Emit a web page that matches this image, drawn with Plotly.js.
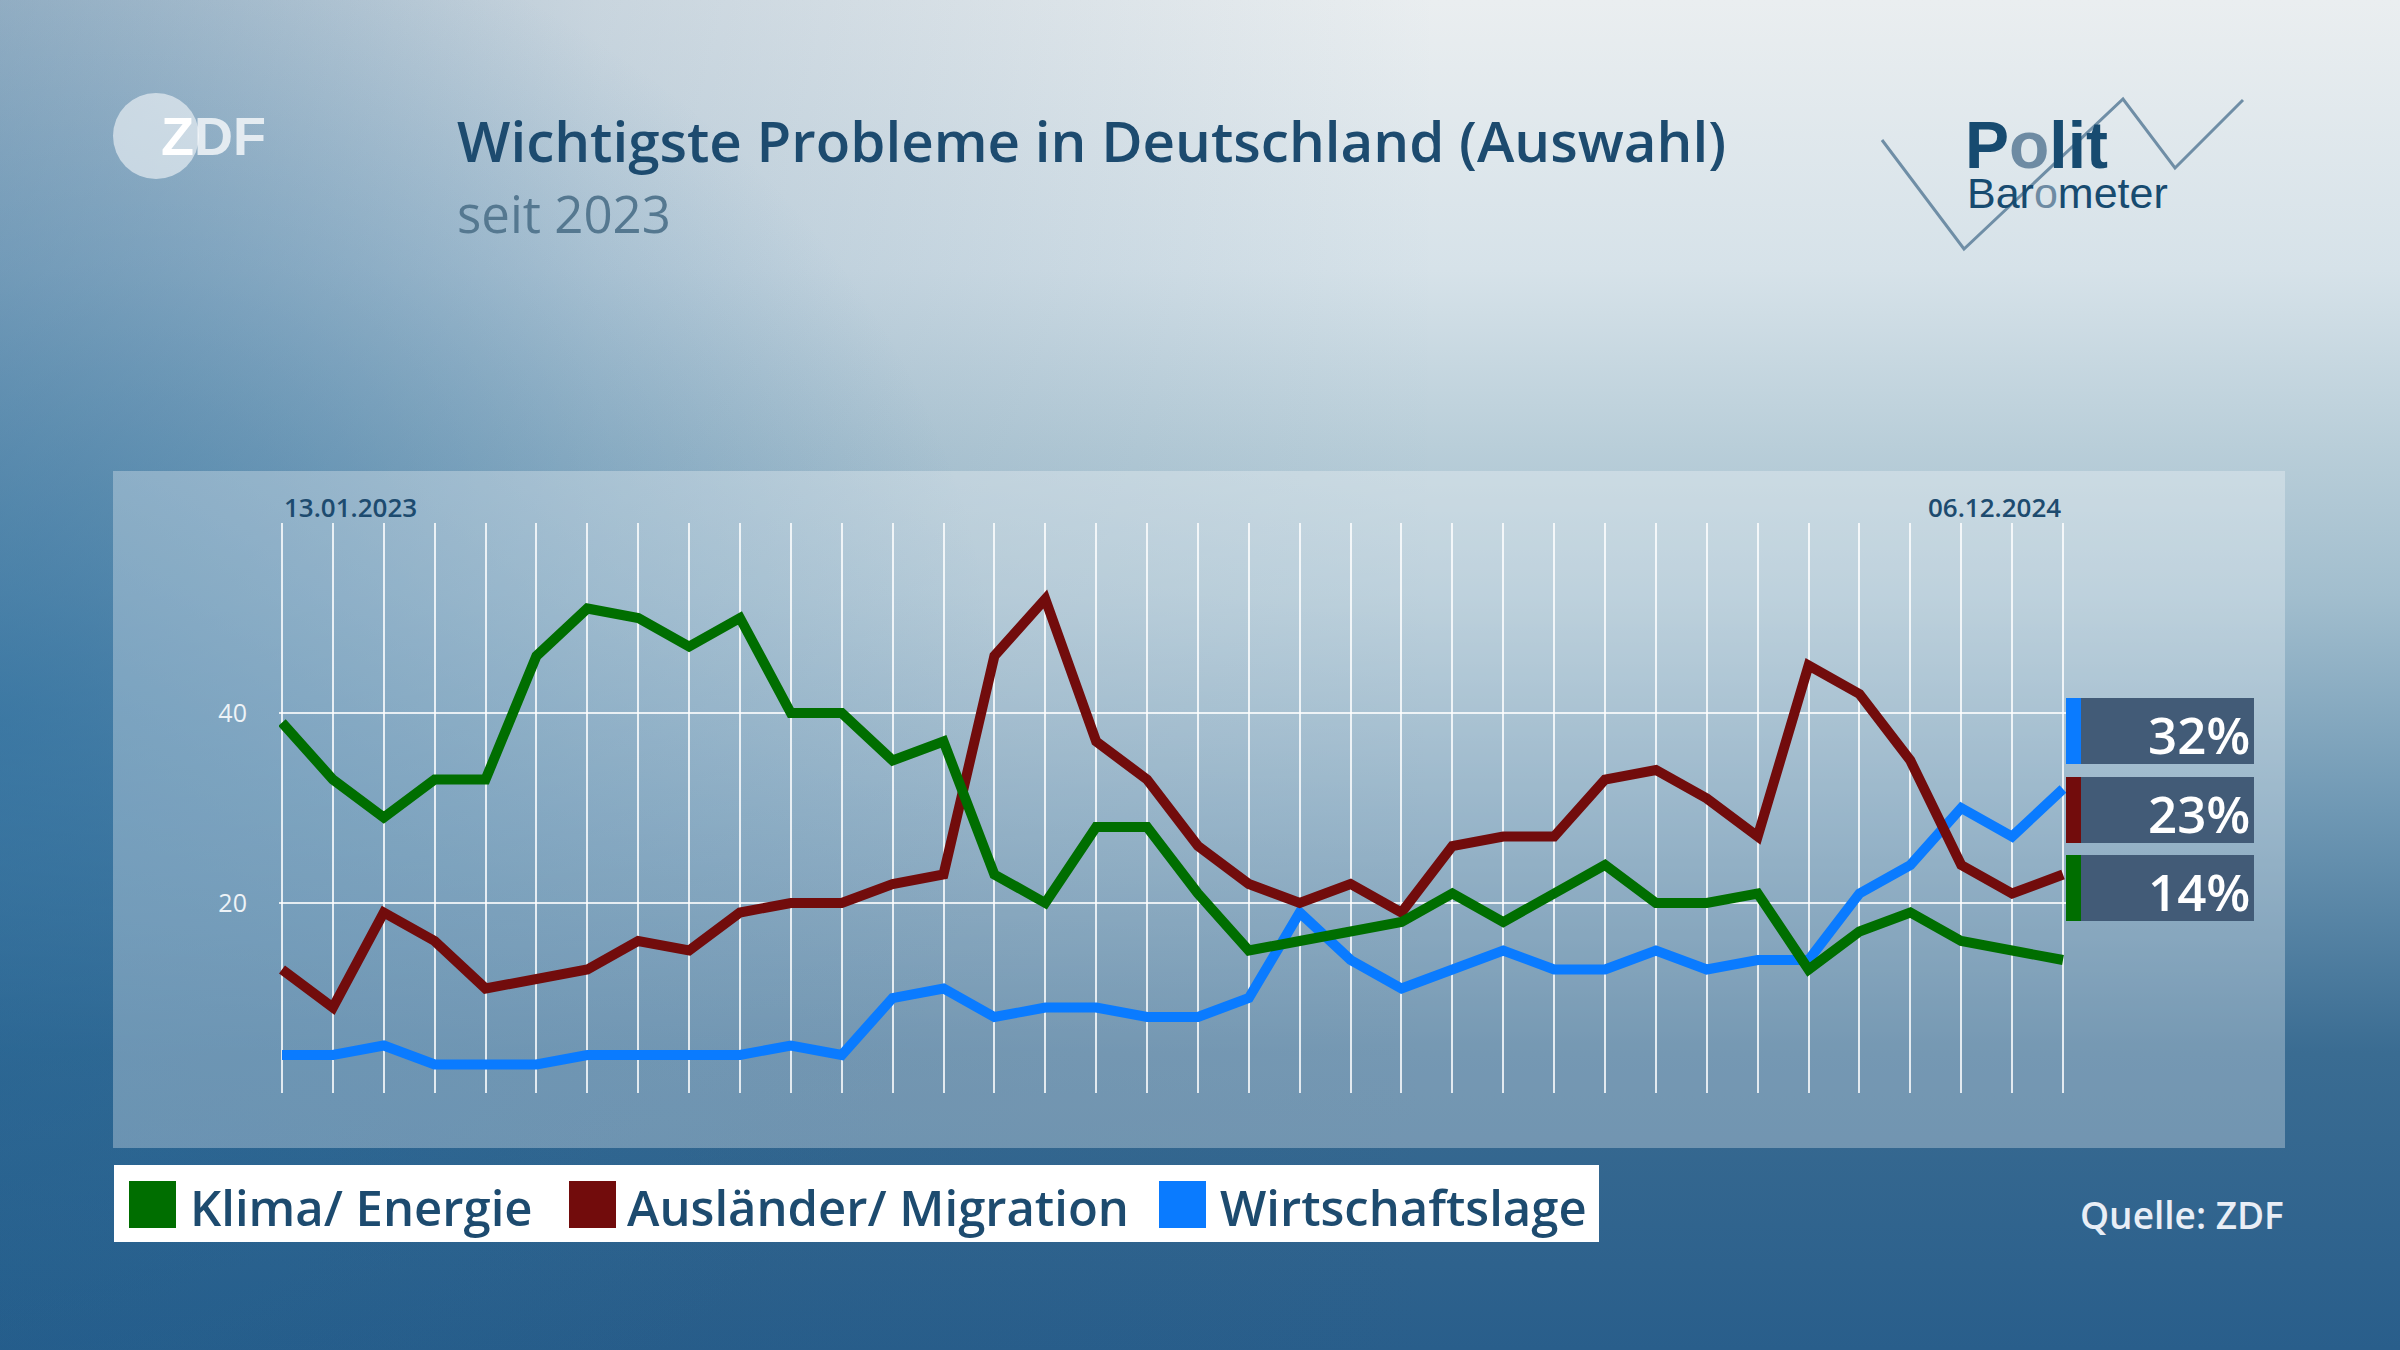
<!DOCTYPE html>
<html>
<head>
<meta charset="utf-8">
<script src="https://cdn.plot.ly/plotly-3.0.1.min.js"></script>
<style>
  html, body { margin: 0; padding: 0; width: 2400px; height: 1350px; overflow: hidden; }
  #bg {
    position: absolute; left: 0; top: 0; width: 2400px; height: 1350px;
    background:
      radial-gradient(ellipse 1000px 850px at 0px 720px, rgba(40,110,160,0.62) 0%, rgba(40,110,160,0.30) 50%, rgba(40,110,160,0) 100%),
      linear-gradient(to right, rgba(28,84,130,0.38) 0%, rgba(28,84,130,0.16) 25%, rgba(28,84,130,0.0) 60%),
      linear-gradient(to bottom, #eaeef0 0%, #d6e2e9 20%, #b9ced9 33%, #a2bece 44%, #6f98b4 60%, #3a6c92 78%, #295e8b 100%);
  }
  #chart { position: absolute; left: 0; top: 0; width: 2400px; height: 1350px; }
</style>
</head>
<body>
<div id="bg"></div>
<div id="chart"></div>
<script>
// ---------- data ----------
const titleText = 'Wichtigste Probleme in Deutschland (Auswahl)';
const subtitleText = 'seit 2023';
const firstDate = '13.01.2023';
const lastDate = '06.12.2024';
const sourceText = 'Quelle: ZDF';

const seriesNames = ['Klima/ Energie', 'Ausländer/ Migration', 'Wirtschaftslage'];
const seriesColors = ['#006e00', '#720c0c', '#0a7bff'];

const klima = [39,33,29,33,33,46,51,50,47,50,40,40,35,37,23,20,28,28,21,15,16,17,18,21,18,21,24,20,20,21,13,17,19,16,15,14];
const auslaender = [13,9,19,16,11,12,13,16,15,19,20,20,22,23,46,52,37,33,26,22,20,22,19,26,27,27,33,34,31,27,45,42,35,24,21,23];
const wirtschaft = [4,4,5,3,3,3,4,4,4,4,5,4,10,11,8,9,9,8,8,10,19,14,11,13,15,13,13,15,13,14,14,21,24,30,27,32];

const yTickVals = [20, 40];
const yTickText = ['20', '40'];

// ---------- helpers ----------
const W = 2400, H = 1350;
const fx = p => p / W;
const fy = p => 1 - p / H;
const FONT = 'Open Sans, Noto Sans, sans-serif';
const NAVY = '#1d4b6f';

const xs = klima.map((_, i) => i);
const lastIdx = xs.length - 1;
// small padding so the first and last vertical grid lines are drawn
const pad = 0.06;
const unitPx = (2063 - 282) / lastIdx;

const traces = [
  { x: xs, y: wirtschaft, name: seriesNames[2], color: seriesColors[2] },
  { x: xs, y: auslaender, name: seriesNames[1], color: seriesColors[1] },
  { x: xs, y: klima, name: seriesNames[0], color: seriesColors[0] }
].map(s => ({
  type: 'scatter', mode: 'lines', x: s.x, y: s.y, name: s.name,
  line: { color: s.color, width: 10, shape: 'linear' },
  hoverinfo: 'skip', showlegend: false
}));

const shapes = [];
const annotations = [];

// panel
shapes.push({ type: 'rect', xref: 'paper', yref: 'paper', layer: 'below',
  x0: fx(113), x1: fx(2285), y0: fy(1148), y1: fy(471),
  fillcolor: 'rgba(255,255,255,0.30)', line: { width: 0 } });

// ZDF logo
shapes.push({ type: 'circle', xref: 'paper', yref: 'paper', layer: 'below',
  x0: fx(113), x1: fx(199), y0: fy(179), y1: fy(93),
  fillcolor: 'rgba(255,255,255,0.55)', line: { width: 0 } });
annotations.push({ xref: 'paper', yref: 'paper', x: fx(159), y: fy(136), xanchor: 'left', yanchor: 'middle',
  text: '<span style="color:#ffffff">Z</span><span style="color:rgba(255,255,255,0.75)">DF</span>',
  showarrow: false, font: { family: 'Liberation Sans, Arial, sans-serif', size: 54, weight: 700, color: '#ffffff' } });

// Title + subtitle
annotations.push({ xref: 'paper', yref: 'paper', x: fx(455), y: fy(140), xanchor: 'left', yanchor: 'middle',
  text: titleText, showarrow: false, font: { family: FONT, size: 56.5, weight: 600, color: NAVY } });
annotations.push({ xref: 'paper', yref: 'paper', x: fx(455), y: fy(213), xanchor: 'left', yanchor: 'middle',
  text: subtitleText, showarrow: false, font: { family: FONT, size: 51, weight: 400, color: '#557890' } });

// Politbarometer logo
const zz = [[1882,140],[1964,249],[2123,99],[2175,168],[2243,100]];
shapes.push({ type: 'path', xref: 'paper', yref: 'paper', layer: 'below',
  path: zz.map((p, i) => (i ? 'L' : 'M') + fx(p[0]) + ',' + fy(p[1])).join(' '),
  line: { color: '#6f8ea6', width: 3 } });
annotations.push({ xref: 'paper', yref: 'paper', x: fx(1963), y: fy(145), xanchor: 'left', yanchor: 'middle',
  text: '<span style="color:#174b70">P</span><span style="color:#6e8ba3">o</span><span style="color:#174b70">lit</span>',
  showarrow: false, font: { family: 'Liberation Sans, Arial, sans-serif', size: 66, weight: 700, color: '#174b70' } });
annotations.push({ xref: 'paper', yref: 'paper', x: fx(1965), y: fy(193), xanchor: 'left', yanchor: 'middle',
  text: '<span style="color:#174b70">Bar</span><span style="color:#6e8ba3">o</span><span style="color:#174b70">meter</span>',
  showarrow: false, font: { family: 'Liberation Sans, Arial, sans-serif', size: 43, weight: 400, color: '#174b70' } });

// Date labels
annotations.push({ xref: 'x', yref: 'paper', x: xs[0], y: fy(507), xanchor: 'left', yanchor: 'middle',
  text: firstDate, showarrow: false, font: { family: FONT, size: 26, weight: 600, color: NAVY } });
annotations.push({ xref: 'x', yref: 'paper', x: xs[lastIdx], y: fy(507), xanchor: 'right', yanchor: 'middle',
  text: lastDate, showarrow: false, font: { family: FONT, size: 26, weight: 600, color: NAVY } });

// Value boxes (stacked, in order of last value)
const lastVals = [
  { v: wirtschaft[lastIdx], c: seriesColors[2] },
  { v: auslaender[lastIdx], c: seriesColors[1] },
  { v: klima[lastIdx], c: seriesColors[0] }
].sort((a, b) => b.v - a.v);
const boxTops = [698, 777, 855];
lastVals.forEach((d, i) => {
  const t = boxTops[i], b = t + 66;
  shapes.push({ type: 'rect', xref: 'paper', yref: 'paper', layer: 'above',
    x0: fx(2066), x1: fx(2254), y0: fy(b), y1: fy(t), fillcolor: '#425b77', line: { width: 0 } });
  shapes.push({ type: 'rect', xref: 'paper', yref: 'paper', layer: 'above',
    x0: fx(2066), x1: fx(2081), y0: fy(b), y1: fy(t), fillcolor: d.c, line: { width: 0 } });
  annotations.push({ xref: 'paper', yref: 'paper', x: fx(2252), y: fy((t + b) / 2 + 3), xanchor: 'right', yanchor: 'middle',
    text: d.v + '%', showarrow: false, font: { family: FONT, size: 51, weight: 600, color: '#ffffff' } });
});

// Legend (custom)
shapes.push({ type: 'rect', xref: 'paper', yref: 'paper', layer: 'below',
  x0: fx(114), x1: fx(1599), y0: fy(1242), y1: fy(1165), fillcolor: '#ffffff', line: { width: 0 } });
const legSq = [129, 569, 1159];
const legTx = [188, 625, 1218];
seriesNames.forEach((n, i) => {
  shapes.push({ type: 'rect', xref: 'paper', yref: 'paper', layer: 'above',
    x0: fx(legSq[i]), x1: fx(legSq[i] + 47), y0: fy(1228), y1: fy(1181), fillcolor: seriesColors[i], line: { width: 0 } });
  annotations.push({ xref: 'paper', yref: 'paper', x: fx(legTx[i]), y: fy(1207), xanchor: 'left', yanchor: 'middle',
    text: n, showarrow: false, font: { family: FONT, size: 49, weight: 600, color: NAVY } });
});

// Source
annotations.push({ xref: 'paper', yref: 'paper', x: fx(2286), y: fy(1214), xanchor: 'right', yanchor: 'middle',
  text: sourceText, showarrow: false, font: { family: FONT, size: 37, weight: 600, color: '#e9eef6' } });

const layout = {
  width: W, height: H,
  margin: { l: 0, r: 0, t: 0, b: 0 },
  paper_bgcolor: 'rgba(0,0,0,0)',
  plot_bgcolor: 'rgba(0,0,0,0)',
  showlegend: false,
  xaxis: {
    domain: [fx(282 - pad * unitPx), fx(2063 + pad * unitPx)], range: [-pad, lastIdx + pad],
    tick0: 0, dtick: 1, showgrid: true, gridcolor: 'rgba(255,255,255,0.8)', gridwidth: 2,
    showticklabels: false, zeroline: false, showline: false, ticks: '', fixedrange: true
  },
  yaxis: {
    domain: [fy(1093), fy(523)], range: [0, 60],
    tickvals: yTickVals, ticktext: yTickText,
    showgrid: true, gridcolor: 'rgba(255,255,255,0.8)', gridwidth: 2,
    zeroline: false, showline: false, ticks: '', ticklabelstandoff: 31,
    tickfont: { family: FONT, size: 25, color: '#eef3f7' }, fixedrange: true
  },
  shapes: shapes,
  annotations: annotations,
  font: { family: FONT }
};

Plotly.newPlot('chart', traces, layout, { staticPlot: true, displayModeBar: false });
</script>
</body>
</html>
